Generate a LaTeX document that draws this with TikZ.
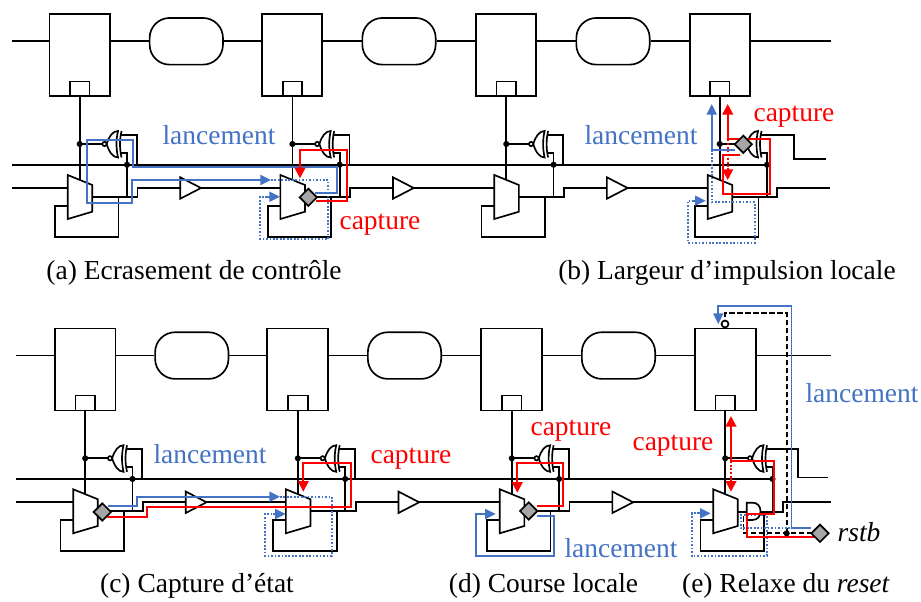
\documentclass[tikz,border=0pt]{standalone}
\usepackage{fontspec}
\setmainfont{Liberation Serif}
\usetikzlibrary{arrows.meta,shapes.geometric}
\definecolor{bl}{HTML}{4472C4}
\definecolor{rd}{HTML}{FF0000}
\definecolor{gy}{HTML}{A6A6A6}
\tikzset{
  wire/.style={line width=1.25pt,black},
  ffbox/.style={draw,line width=1.25pt,fill=white,minimum width=45.4pt,minimum height=61.5pt,inner sep=0pt},
  clkbox/.style={draw,line width=1.25pt,fill=white,minimum width=14.6pt,minimum height=11.2pt,inner sep=0pt},
  logic/.style={draw,line width=1.25pt,fill=white,minimum width=55pt,minimum height=35pt,rounded corners=15pt,inner sep=0pt},
  gatebody/.style={draw=black,line width=1.25pt,fill=white},
  bluep/.style={bl,line width=1.35pt},
  bluedot/.style={bl,line width=1.35pt,dash pattern=on 1.3pt off 1.3pt},
  redp/.style={rd,line width=1.5pt},
  reddot/.style={rd,line width=1.5pt,dash pattern=on 1.4pt off 1.4pt},
  btip/.style={-{Triangle[length=8pt,width=7.5pt]}},
  rtip/.style={-{Triangle[length=8pt,width=8pt]}},
  probe/.style={draw=black,line width=1.25pt,fill=gy,minimum size=13.5pt,inner sep=0pt,shape=diamond},
  lb/.style={anchor=base,inner sep=0pt,font=\fontsize{20.6}{24}\selectfont},
  captxt/.style={lb,text=black},
  lanc/.style={lb,text=bl},
  capt/.style={lb,text=rd},
}
% top row of flip-flops and logic clouds
\newcommand\ffrow[3]{%
  \coordinate (#1start) at (#2,41.3);
  \coordinate (#1end) at (#3,41.3);
  \node[ffbox] (#1f1) at (79.75,55.3) {};
  \node[ffbox] (#1f2) at (292,55.3) {};
  \node[ffbox] (#1f3) at (506,55.3) {};
  \node[ffbox] (#1f4) at (720,55.3) {};
  \node[logic] (#1s1) at (186.3,41.3) {};
  \node[logic] (#1s2) at (399,41.3) {};
  \node[logic] (#1s3) at (613,41.3) {};
  \draw[wire] (#1start) -- (#1f1.west |- #1start);
  \draw[wire] (#1f1.east |- #1s1.west) -- (#1s1.west);
  \draw[wire] (#1s1.east) -- (#1f2.west |- #1s1.east);
  \draw[wire] (#1f2.east |- #1s2.west) -- (#1s2.west);
  \draw[wire] (#1s2.east) -- (#1f3.west |- #1s2.east);
  \draw[wire] (#1f3.east |- #1s3.west) -- (#1s3.west);
  \draw[wire] (#1s3.east) -- (#1f4.west |- #1s3.east);
  \draw[wire] (#1f4.east |- #1end) -- (#1end);
}
% common part of a stage: clock box, clock line, gate, mux
\newcommand\stagecore[1]{%
  \begin{scope}[xshift=#1*0.75pt]
  \node[clkbox] at (79.75,88.8) {};
  \draw[wire] (79.7,96.3) -- (79.7,180);
  \draw[wire] (79.7,144) -- (102.4,144);
  \fill (79.7,144) circle[radius=2.3pt];
  \draw[gatebody] (104.5,144) circle[radius=1.6pt];
  \draw[gatebody] (106.7,144) .. controls (109,136) and (113,131) .. (118,131)
     .. controls (116,140) and (116,148) .. (118,157.5)
     .. controls (113,157.5) and (109,152) .. (106.7,144) -- cycle;
  \draw[wire] (121.5,131) .. controls (119.5,140) and (119.5,148) .. (121.5,157.5);
  \draw[gatebody] (67.7,175) -- (92.3,185) -- (92.3,211.7) -- (67.7,219) -- cycle;
  \draw[wire] (120.5,135) -- +(2.5,0);
  \draw[wire] (120.5,153) -- (127,153) -- (127,164.7);
  \fill (127,164.7) circle[radius=2.3pt];
  \draw[wire] (67.7,206) -- (55,206) -- (55,236.7) -- (118.5,236.7) -- (118.5,197);
  \end{scope}}
% stage with its normal output, buffer and link to the next stage
\newcommand\stagenorm[2]{%
  \stagecore{#1}
  \begin{scope}[xshift=#1*0.75pt]
  \draw[wire] (120.5,135) -- (136.7,135) -- (136.7,164.7);
  \draw[wire] (127,164.7) -- (127,197);
  \draw[wire] (92.3,197) -- (137.5,197) -- (137.5,188) -- (#2,188);
  \draw[gatebody] (180.3,177.3) -- (201,188) -- (180.3,198.7) -- cycle;
  \end{scope}}
\newcommand\rowlines[2]{%
  \draw[wire] (#2,164.7) -- (767,164.7);
  \draw[wire] (#2,188) -- (67.7,188);
}
\begin{document}
\begin{tikzpicture}[x=0.75pt,y=-0.75pt]
\useasboundingbox (0,0) rectangle (921,601);
\fill[white] (0,0) rectangle (921,601);
% ---------- top row (a, b)
\begin{scope}
  \ffrow{t}{12}{831}
  \rowlines{t}{12}
  \stagenorm{0}{280.4}
  \stagenorm{212.7}{281.6}
  \stagenorm{426.6}{280.8}
  \stagecore{640}
  \begin{scope}[xshift=480pt]
    \draw[wire] (120.5,135) -- (153.7,135) -- (153.7,159) -- (186,159);
    \draw[wire] (127,164.7) -- (127,197);
    \draw[wire] (92.3,197) -- (136.7,197) -- (136.7,188) -- (190,188);
  \end{scope}
\end{scope}
% ---------- bottom row (c, d, e)
\begin{scope}[xshift=4.125pt,yshift=-235.7pt]
  \ffrow{b}{10}{825.5}
  \rowlines{b}{10}
  \stagenorm{0}{280.4}
  \stagenorm{212.7}{281.6}
  \stagenorm{426.6}{280.8}
  \stagecore{640}
  \begin{scope}[xshift=480pt]
    \draw[wire] (120.5,135) -- (152.5,135) -- (152.5,163.3) -- (182.2,163.3);
    \draw[wire] (127,164.7) -- (127,197);
    \draw[wire] (92.3,197.4) -- (101.2,197.4);
    \draw[wire] (114.5,197.4) -- (137.5,197.4) -- (137.5,187.4) -- (185.5,187.4);
    \draw[gatebody] (101.2,188.4) -- (107,188.4) .. controls (112,188.4) and (115,192) .. (115,197)
       .. controls (115,202) and (112,205.7) .. (107,205.7) -- (101.2,205.7) -- cycle;
  \end{scope}
\end{scope}
% bubble on top of the last flip-flop
\draw[wire,fill=white] (725,324) circle[radius=2.6pt];
% ---------- (a)
\draw[bluep] (92.3,202.7) -- (86.7,202.7) -- (86.7,140) -- (132.7,140) -- (132.7,167.3) -- (336.7,167.3) -- (336.7,193.3) -- (315,193.3);
\draw[bluep] (86.7,202.7) -- (131.7,202.7) -- (131.7,180);
\draw[bluep,btip] (131,180) -- (271,180);
\draw[bluedot] (271,180) -- (328.3,180) -- (328.3,239) -- (260,239) -- (260,196.7) -- (268,196.7);
\draw[bluep,btip] (266,196.7) -- (280,196.7);
\draw[redp] (316,201) -- (346.7,201) -- (346.7,150) -- (300,150);
\draw[redp,rtip] (300,149.1) -- (300,178.3);
\node[probe] (pa) at (308.3,197.3) {};
% ---------- (b)
\draw[bluep,btip] (735,150) -- (711.7,150) -- (711.7,104);
\draw[bluedot] (711.7,150) -- (711.7,202.3) -- (755,202.3) -- (755,242.7) -- (687.7,242.7) -- (687.7,200.7) -- (695,200.7);
\draw[bluep,btip] (693,200.7) -- (705.7,200.7);
\draw[redp,rtip] (727.7,139.3) -- (727.7,104);
\draw[redp] (727,139.3) -- (770,139.3) -- (770,194) -- (723.3,194) -- (723.3,155) -- (740,155);
\draw[reddot] (727.7,139.3) -- (727.7,171);
\draw[redp,rtip] (727.7,168) -- (727.7,180);
\node[probe] (pb) at (743.3,144.3) {};
% ---------- (c)
\draw[bluep,btip] (108.3,506) -- (136.7,506) -- (136.7,496.7) -- (280,496.7);
\draw[bluedot] (280,496.7) -- (331.7,496.7) -- (331.7,556) -- (265,556) -- (265,514) -- (275,514);
\draw[bluep,btip] (273,514) -- (285.7,514);
\draw[redp] (107.3,516.7) -- (146.7,516.7) -- (146.7,507.3) -- (350.7,507.3) -- (350.7,462.7) -- (303.3,462.7);
\draw[redp,rtip] (303.3,461.8) -- (303.3,491.7);
\node[probe] (pc) at (102.3,512) {};
% ---------- (d)
\draw[redp] (536.7,506) -- (562.7,506) -- (562.7,463.3) -- (517.3,463.3);
\draw[redp,rtip] (517.3,462.4) -- (517.3,492.7);
\draw[bluep,btip] (537.3,516) -- (554,516) -- (554,556) -- (476,556) -- (476,514) -- (495.7,514);
\node[probe] (pd) at (528.7,511) {};
% ---------- (e)
\coordinate (rs) at (820,533.3);
\draw[wire,dash pattern=on 4pt off 2pt] (rs) -- (743.5,533.3) -- (743.5,516) -- (747,516);
\draw[wire,dash pattern=on 4pt off 2pt] (786.7,533.3) -- (786.7,313.3) -- (725,313.3) -- (725,320.5);
\fill (786.7,533.3) circle[radius=2.3pt];
\draw[bluep,btip] (811,528.3) -- (791.5,528.3) -- (791.5,305.7) -- (718.3,305.7) -- (718.3,324);
\draw[bluedot] (811,528.3) -- (740.7,528.3) -- (740.7,515) -- (766.7,515) -- (766.7,556) -- (691.7,556) -- (691.7,513.3) -- (701,513.3);
\draw[bluep,btip] (699,513.3) -- (710.7,513.3);
\draw[redp] (816.7,536.7) -- (747.3,536.7) -- (747.3,514) -- (774.3,514) -- (774.3,461) -- (731,461);
\draw[redp,rtip] (731,461.9) -- (731,416);
\draw[reddot] (731,461) -- (731,480);
\draw[redp,rtip] (731,478) -- (731,491.7);
\node[probe] (rstbp) at (rs) {};
% ---------- texts
\node[lanc] (la) at (219,144) {lancement};
\node[capt] (ca) at (380,229) {capture};
\node[captxt]  (ta) at (194,279) {(a) Ecrasement de contrôle};
\node[lanc] (lb) at (641,144) {lancement};
\node[capt] (cb) at (794,121) {capture};
\node[captxt]  (tb) at (727,279) {(b) Largeur d’impulsion locale};
\node[lanc] (lc) at (210,463) {lancement};
\node[capt] (cc) at (411,463) {capture};
\node[captxt]  (tc) at (197,592) {(c) Capture d’état};
\node[capt] (cd) at (571,435) {capture};
\node[lanc] (ld) at (621,557) {lancement};
\node[captxt]  (td) at (543.5,592) {(d) Course locale};
\node[capt] (ce) at (673,450) {capture};
\node[lanc] (le) at (862,402) {lancement};
\node[captxt]  (te) at (786,592) {(e) Relaxe du \textit{reset}};
\node[captxt]  (rl) at (859,541) {\textit{rstb}};
\end{tikzpicture}
\end{document}
